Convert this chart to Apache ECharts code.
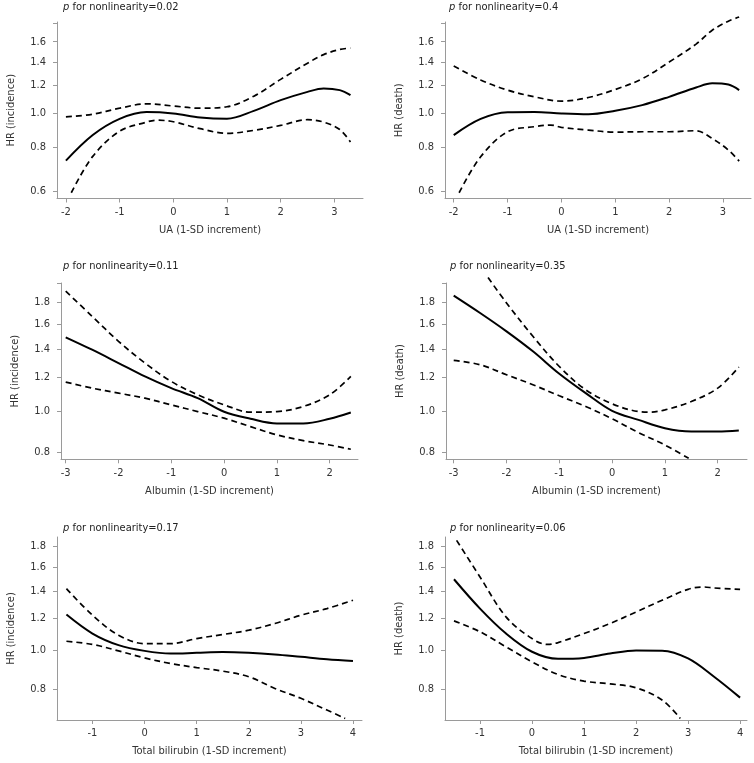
<!DOCTYPE html>
<html><head><meta charset="utf-8">
<script src="https://cdn.jsdelivr.net/npm/echarts@6/dist/echarts.min.js"></script>
<style>html,body{margin:0;padding:0;background:#fff}#c{width:754px;height:763px}</style>
</head><body><div id="c"></div>
<script>
// ---------- Panel 1: UA vs incidence ----------
const p1Title = '0.02';
const p1X    = [-2, -1.5, -1, -0.5, 0, 0.5, 1, 1.5, 2, 2.5, 2.8, 3.1, 3.3];
const p1Est  = [0.734, 0.868, 0.965, 1.009, 1.0, 0.974, 0.966, 1.017, 1.091, 1.152, 1.178, 1.165, 1.127];
const p1Hi   = [0.978, 0.995, 1.035, 1.065, 1.05, 1.035, 1.045, 1.12, 1.25, 1.39, 1.47, 1.52, 1.535];
const p1LoX  = [-1.9, -1.5, -1, -0.5, -0.3, 0, 0.5, 1, 1.5, 2, 2.5, 2.8, 3.1, 3.3];
const p1Lo   = [0.595, 0.755, 0.89, 0.945, 0.957, 0.947, 0.905, 0.878, 0.895, 0.925, 0.96, 0.945, 0.9, 0.83];

// ---------- Panel 2: UA vs death ----------
const p2Title = '0.4';
const p2X    = [-2, -1.5, -1, -0.5, 0, 0.5, 1, 1.5, 2, 2.5, 2.8, 3.1, 3.3];
const p2Est  = [0.868, 0.965, 1.008, 1.01, 1.0, 0.995, 1.018, 1.056, 1.115, 1.185, 1.218, 1.208, 1.165];
const p2Hi   = [1.365, 1.245, 1.165, 1.115, 1.084, 1.11, 1.17, 1.255, 1.4, 1.575, 1.724, 1.83, 1.88];
const p2LoX  = [-1.9, -1.5, -1, -0.5, -0.2, 0, 0.5, 1, 1.5, 2, 2.5, 2.8, 3.1, 3.3];
const p2Lo   = [0.595, 0.753, 0.887, 0.917, 0.927, 0.913, 0.897, 0.885, 0.887, 0.887, 0.893, 0.849, 0.787, 0.732];

// ---------- Panel 3: Albumin vs incidence ----------
const p3Title = '0.11';
const p3X    = [-3, -2.5, -2, -1.5, -1, -0.5, 0, 0.5, 1, 1.5, 2, 2.4];
const p3Est  = [1.49, 1.393, 1.296, 1.205, 1.131, 1.071, 0.995, 0.958, 0.934, 0.934, 0.958, 0.991];
const p3Hi   = [1.913, 1.67, 1.458, 1.296, 1.173, 1.091, 1.033, 0.993, 0.996, 1.024, 1.091, 1.205];
const p3Lo   = [1.169, 1.131, 1.101, 1.071, 1.033, 0.996, 0.961, 0.918, 0.878, 0.851, 0.831, 0.812];

// ---------- Panel 4: Albumin vs death ----------
const p4Title = '0.35';
const p4X    = [-3, -2.5, -2, -1.5, -1, -0.5, 0, 0.5, 1, 1.5, 2, 2.4];
const p4Est  = [1.868, 1.70, 1.539, 1.381, 1.223, 1.101, 1.0, 0.952, 0.91, 0.894, 0.894, 0.899];
const p4HiX  = [-2.35, -2, -1.5, -1, -0.5, 0, 0.5, 0.7, 1, 1.5, 2, 2.4];
const p4Hi   = [2.06, 1.795, 1.498, 1.272, 1.121, 1.039, 0.996, 0.993, 1.005, 1.052, 1.131, 1.268];
const p4LoX  = [-3, -2.5, -2, -1.5, -1, -0.5, 0, 0.5, 1, 1.45];
const p4Lo   = [1.315, 1.284, 1.216, 1.152, 1.085, 1.024, 0.958, 0.889, 0.831, 0.773];

// ---------- Panel 5: Total bilirubin vs incidence ----------
const p5Title = '0.17';
const p5X    = [-1.5, -1, -0.5, 0, 0.5, 1, 1.5, 2, 2.5, 3, 3.5, 4];
const p5Est  = [1.224, 1.099, 1.029, 0.996, 0.981, 0.985, 0.989, 0.985, 0.976, 0.963, 0.95, 0.94];
const p5Hi   = [1.418, 1.219, 1.089, 1.038, 1.038, 1.068, 1.093, 1.12, 1.163, 1.219, 1.266, 1.327];
const p5LoX  = [-1.5, -1, -0.5, 0, 0.5, 1, 1.5, 2, 2.5, 3, 3.5, 3.85];
const p5Lo   = [1.052, 1.033, 0.996, 0.957, 0.927, 0.906, 0.888, 0.86, 0.805, 0.761, 0.712, 0.679];

// ---------- Panel 6: Total bilirubin vs death ----------
const p6Title = '0.06';
const p6X    = [-1.5, -1, -0.5, 0, 0.5, 1, 1.5, 2, 2.5, 3, 3.5, 4];
const p6Est  = [1.495, 1.266, 1.099, 0.991, 0.952, 0.957, 0.981, 0.998, 0.997, 0.954, 0.86, 0.764];
const p6HiX  = [-1.45, -1, -0.5, 0, 0.3, 0.5, 1, 1.5, 2, 2.5, 3, 3.3, 3.5, 4];
const p6Hi   = [1.864, 1.515, 1.208, 1.068, 1.033, 1.044, 1.099, 1.163, 1.242, 1.327, 1.412, 1.431, 1.423, 1.412];
const p6LoX  = [-1.5, -1, -0.5, 0, 0.5, 1, 1.5, 2, 2.5, 2.85];
const p6Lo   = [1.181, 1.11, 1.019, 0.936, 0.871, 0.839, 0.826, 0.808, 0.754, 0.679];

// ---------- tick labels ----------
const uaTicks   = [-2, -1, 0, 1, 2, 3];
const albTicks  = [-3, -2, -1, 0, 1, 2];
const bilTicks  = [-1, 0, 1, 2, 3, 4];
const yTicksTop = [0.6, 0.8, 1.0, 1.2, 1.4, 1.6, 1.8];
const yLabelsTop = [0.6, 0.8, 1.0, 1.2, 1.4, 1.6];
const yTicksMid = [0.8, 1.0, 1.2, 1.4, 1.6, 1.8, 2.0];
const yLabelsMid = [0.8, 1.0, 1.2, 1.4, 1.6, 1.8];
const yTicksBot = [0.8, 1.0, 1.2, 1.4, 1.6, 1.8];
const yLabelsBot = [0.8, 1.0, 1.2, 1.4, 1.6, 1.8];

const xNames = ['UA (1-SD increment)', 'UA (1-SD increment)', 'Albumin (1-SD increment)', 'Albumin (1-SD increment)', 'Total bilirubin (1-SD increment)', 'Total bilirubin (1-SD increment)'];
const yNames = ['HR (incidence)', 'HR (death)', 'HR (incidence)', 'HR (death)', 'HR (incidence)', 'HR (death)'];

const FONT = '"Liberation Sans Narrow", "DejaVu Sans Condensed", "Liberation Sans", sans-serif';
const AXC = '#9a9a9a';
const TXT = '#333';

const layout = [
  {left: 57,  top: 22,  width: 306, height: 176.5, xmin: -2.166, xmax: 3.533, ymin: 0.573, ymax: 1.82, tl: 63,  tt: 2},
  {left: 445, top: 22,  width: 306, height: 176.5, xmin: -2.162, xmax: 3.52,  ymin: 0.573, ymax: 1.82, tl: 449, tt: 2},
  {left: 61,  top: 283, width: 297, height: 176.3, xmin: -3.089, xmax: 2.536, ymin: 0.769, ymax: 2.0,  tl: 63,  tt: 261},
  {left: 446, top: 283, width: 301, height: 176.3, xmin: -3.146, xmax: 2.555, ymin: 0.769, ymax: 2.0,  tl: 450, tt: 261},
  {left: 57,  top: 537, width: 305, height: 183,   xmin: -1.681, xmax: 4.173, ymin: 0.673, ymax: 1.9,  tl: 63,  tt: 523},
  {left: 445, top: 537, width: 302, height: 183,   xmin: -1.673, xmax: 4.133, ymin: 0.673, ymax: 1.9,  tl: 450, tt: 523}
];
const titles = [p1Title, p2Title, p3Title, p4Title, p5Title, p6Title];
const xTicks = [uaTicks, uaTicks, albTicks, albTicks, bilTicks, bilTicks];
const yTicks = [yTicksTop, yTicksTop, yTicksMid, yTicksMid, yTicksBot, yTicksBot];
const yLabels = [yLabelsTop, yLabelsTop, yLabelsMid, yLabelsMid, yLabelsBot, yLabelsBot];

const panels = [
  {est: [p1X, p1Est], hi: [p1X, p1Hi], lo: [p1LoX, p1Lo]},
  {est: [p2X, p2Est], hi: [p2X, p2Hi], lo: [p2LoX, p2Lo]},
  {est: [p3X, p3Est], hi: [p3X, p3Hi], lo: [p3X, p3Lo]},
  {est: [p4X, p4Est], hi: [p4HiX, p4Hi], lo: [p4LoX, p4Lo]},
  {est: [p5X, p5Est], hi: [p5X, p5Hi], lo: [p5LoX, p5Lo]},
  {est: [p6X, p6Est], hi: [p6HiX, p6Hi], lo: [p6LoX, p6Lo]}
];

const zip = (xs, ys) => xs.map((x, i) => [x, ys[i]]);

const grid = [], xAxis = [], yAxis = [], series = [], title = [];
layout.forEach((L, i) => {
  grid.push({left: L.left, top: L.top, width: L.width, height: L.height, containLabel: false});
  title.push({
    text: '{i|p} for nonlinearity=' + titles[i],
    left: L.tl, top: L.tt, padding: 0,
    textStyle: {fontFamily: FONT, fontSize: 11, fontWeight: 'normal', color: '#222',
      rich: {i: {fontStyle: 'italic', fontFamily: FONT, fontSize: 11, color: '#222'}}}
  });
  xAxis.push({
    type: 'value', gridIndex: i, min: L.xmin, max: L.xmax,
    name: xNames[i], nameLocation: 'middle', nameGap: 26,
    nameTextStyle: {fontFamily: FONT, fontSize: 11, color: TXT},
    axisLine: {show: true, onZero: false, lineStyle: {color: AXC, width: 1}},
    axisTick: {show: true, length: 4, inside: false, customValues: xTicks[i], lineStyle: {color: AXC}},
    axisLabel: {customValues: xTicks[i], margin: 8, fontFamily: FONT, fontSize: 11, color: TXT,
      formatter: v => String(Math.round(v))},
    splitLine: {show: false}
  });
  yAxis.push({
    type: 'log', logBase: 10, gridIndex: i, min: L.ymin, max: L.ymax,
    name: yNames[i], nameLocation: 'middle', nameGap: 40, nameRotate: 90,
    nameTextStyle: {fontFamily: FONT, fontSize: 11, color: TXT},
    axisLine: {show: true, onZero: false, lineStyle: {color: AXC, width: 1}},
    axisTick: {show: true, length: 4, inside: false, customValues: yTicks[i], lineStyle: {color: AXC}},
    axisLabel: {customValues: yLabels[i], margin: 11, fontFamily: FONT, fontSize: 11, color: TXT,
      formatter: v => Number(v).toFixed(1)},
    splitLine: {show: false}, minorTick: {show: false}
  });
  const P = panels[i];
  const common = {type: 'line', xAxisIndex: i, yAxisIndex: i, showSymbol: false, symbol: 'none',
    smooth: 0.35, clip: false, silent: true, animation: false};
  series.push(Object.assign({}, common, {data: zip(P.est[0], P.est[1]),
    lineStyle: {color: '#000', width: 2, type: 'solid'}}));
  series.push(Object.assign({}, common, {data: zip(P.hi[0], P.hi[1]),
    lineStyle: {color: '#000', width: 1.7, type: [6, 4]}}));
  series.push(Object.assign({}, common, {data: zip(P.lo[0], P.lo[1]),
    lineStyle: {color: '#000', width: 1.7, type: [6, 4]}}));
});

const chart = echarts.init(document.getElementById('c'), null, {renderer: 'canvas'});
chart.setOption({backgroundColor: '#fff', animation: false, title, grid, xAxis, yAxis, series});
</script>
</body></html>
